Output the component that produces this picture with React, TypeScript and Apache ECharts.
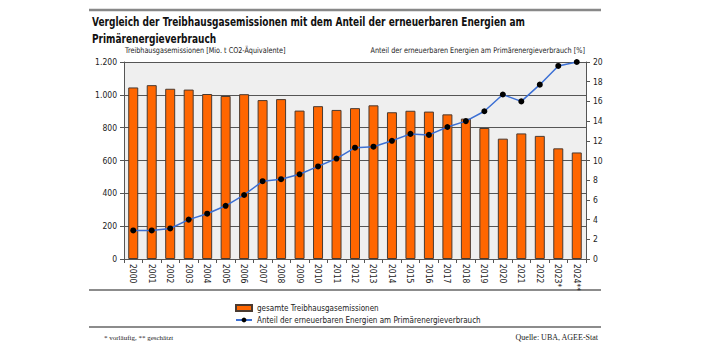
import React, { useEffect, useRef } from "react";
import * as echarts from "echarts";

const years = ["2000","2001","2002","2003","2004","2005","2006","2007","2008","2009","2010","2011","2012","2013","2014","2015","2016","2017","2018","2019","2020","2021","2022","2023*","2024**"];
const emissions = [1045,1059,1037,1032,1005,993,1004,968,974,904,931,908,919,936,894,903,898,881,855,798,733,765,750,674,649];
const renewShare = [2.9,2.9,3.1,4.0,4.6,5.4,6.5,7.9,8.1,8.6,9.4,10.2,11.3,11.4,12.0,12.7,12.6,13.4,14.0,15.0,16.7,16.0,17.7,19.6,20.0];
const leftTicks = [0, 1200, 200];
const rightTicks = [0, 20, 2];

const FONT = "'Liberation Sans Narrow', 'DejaVu Sans Condensed', 'Roboto Condensed', Roboto, sans-serif";
const SERIF = "'Liberation Serif', 'DejaVu Serif', serif";

export default function App() {
  const ref = useRef<HTMLDivElement>(null);
  useEffect(() => {
    if (!ref.current) return;
    document.body.style.margin = "0";
    const chart = echarts.init(ref.current, null, { renderer: "svg" });
    chart.setOption({
      animation: false,
      backgroundColor: "#ffffff",
      textStyle: { fontFamily: FONT },
      grid: {
        left: 124, right: 121, top: 62, bottom: 95,
        show: true, backgroundColor: "#efefef", borderWidth: 0,
      },
      legend: {
        orient: "vertical",
        left: 230, top: 299,
        itemGap: 4,
        itemWidth: 16, itemHeight: 6,
        textStyle: { fontFamily: FONT, fontSize: 8, color: "#222" },
        data: [
          { name: "gesamte Treibhausgasemissionen", icon: "rect" },
          { name: "Anteil der erneuerbaren Energien am Primärenergieverbrauch" },
        ],
      },
      xAxis: {
        type: "category",
        data: years,
        boundaryGap: true,
        axisLine: { lineStyle: { color: "#555", width: 1 } },
        axisTick: { show: true, length: 4, lineStyle: { color: "#555" } },
        axisLabel: { rotate: -90, fontSize: 8.5, color: "#222", margin: 5, fontFamily: FONT },
      },
      yAxis: [
        {
          type: "value",
          min: leftTicks[0], max: leftTicks[1], interval: leftTicks[2],
          axisLine: { show: true, lineStyle: { color: "#555" } },
          axisTick: { show: true, length: 4, lineStyle: { color: "#555" } },
          axisLabel: {
            fontSize: 8.5, color: "#222", margin: 7, fontFamily: FONT,
            formatter: (v: number) => v.toString().replace(/\B(?=(\d{3})+(?!\d))/g, "."),
          },
          splitLine: { show: true, lineStyle: { color: "#555", width: 1 } },
        },
        {
          type: "value",
          min: rightTicks[0], max: rightTicks[1], interval: rightTicks[2],
          position: "right",
          axisLine: { show: true, lineStyle: { color: "#555" } },
          axisTick: { show: true, length: 4, lineStyle: { color: "#555" } },
          axisLabel: { fontSize: 8.5, color: "#222", margin: 7, fontFamily: FONT },
          splitLine: { show: false },
        },
      ],
      series: [
        {
          name: "gesamte Treibhausgasemissionen",
          type: "bar",
          data: emissions,
          barWidth: 10,
          itemStyle: { color: "#ff6600", borderColor: "#4a3a30", borderWidth: 1 },
        },
        {
          name: "Anteil der erneuerbaren Energien am Primärenergieverbrauch",
          type: "line",
          yAxisIndex: 1,
          data: renewShare,
          symbol: "circle",
          symbolSize: 6,
          lineStyle: { color: "#3b6fd4", width: 1.5 },
          itemStyle: { color: "#000000" },
        },
      ],
      graphic: [
        { type: "line", shape: { x1: 89, y1: 10, x2: 601, y2: 10 }, style: { stroke: "#888", lineWidth: 2.5 } },
        {
          type: "text", x: 92, y: 13, scaleX: 0.77,
          style: { text: "Vergleich der Treibhausgasemissionen mit dem Anteil der erneuerbaren Energien am\nPrimärenergieverbrauch", fontFamily: FONT, fontWeight: "bold", fontSize: 13, fill: "#111", lineHeight: 17, verticalAlign: "top" },
        },
        {
          type: "text", x: 125, y: 46, scaleX: 0.9,
          style: { text: "Treibhausgasemissionen [Mio. t CO2-Äquivalente]", fontFamily: FONT, fontSize: 8, fill: "#222", verticalAlign: "top" },
        },
        {
          type: "text", x: 585, y: 46, scaleX: 0.9,
          style: { text: "Anteil der erneuerbaren Energien am Primärenergieverbrauch [%]", fontFamily: FONT, fontSize: 8, fill: "#222", align: "right", verticalAlign: "top" },
        },
        { type: "line", shape: { x1: 89, y1: 290, x2: 601, y2: 290 }, style: { stroke: "#666", lineWidth: 1.5 } },
        { type: "line", shape: { x1: 89, y1: 327, x2: 601, y2: 327 }, style: { stroke: "#666", lineWidth: 1.5 } },
        { type: "text", x: 104, y: 334, style: { text: "* vorläufig, ** geschätzt", fontFamily: SERIF, fontSize: 7, fill: "#222", verticalAlign: "top" } },
        { type: "text", x: 598, y: 333, style: { text: "Quelle: UBA, AGEE-Stat", fontFamily: SERIF, fontSize: 8, fill: "#222", align: "right", verticalAlign: "top" } },
      ],
    });
    return () => chart.dispose();
  }, []);
  return <div ref={ref} style={{ width: 707, height: 354 }} />;
}
